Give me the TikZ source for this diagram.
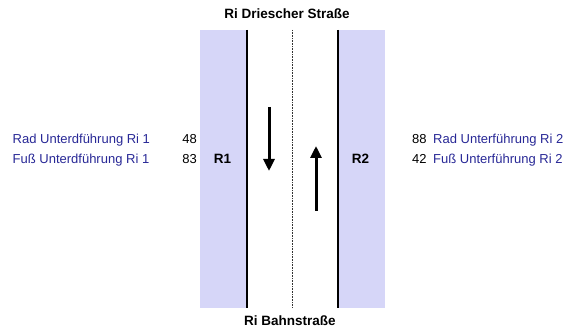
\documentclass[tikz,border=0pt]{standalone}
\usepackage{fontspec}
\setmainfont{Liberation Sans}
\usetikzlibrary{arrows.meta}
\definecolor{stripblue}{RGB}{214,214,248}
\definecolor{labelblue}{RGB}{40,40,150}
\tikzset{
  lbl/.style={font=\fontsize{13}{15}\selectfont, inner sep=0pt},
  bluelbl/.style={lbl, text=labelblue},
  boldlbl/.style={font=\fontsize{13.5}{15}\selectfont\bfseries, inner sep=0pt},
  strip/.style={fill=stripblue, draw=none},
  edge/.style={line width=2pt, black},
  midline/.style={line width=1pt, black!80, dash pattern=on 1pt off 0.6pt},
  dirarrow/.style={line width=3pt, -{Triangle[width=11pt,length=12pt]}}
}
\begin{document}
\begin{tikzpicture}[x=1pt,y=-1pt]
\useasboundingbox (0,0) rectangle (567,336);
% strips
\fill[strip] (200,30) rectangle (246,308);
\fill[strip] (338,30) rectangle (385,308);
% lines
\coordinate (l1) at (246.5,30); \coordinate (l2) at (246.5,308);
\coordinate (m1) at (292,30); \coordinate (m2) at (292,308);
\coordinate (r1) at (337.5,30); \coordinate (r2) at (337.5,308);
\draw[edge] (l1) -- (l2);
\draw[edge] (r1) -- (r2);
\draw[midline] (m1) -- (m2);
% arrows
\coordinate (d1) at (269,107); \coordinate (d2) at (269,171);
\coordinate (u1) at (316,211); \coordinate (u2) at (316,146);
\draw[dirarrow] (d1) -- (d2);
\draw[dirarrow] (u1) -- (u2);
% titles
\node[boldlbl, anchor=base] (top) at (287,18.3) {Ri Driescher Straße};
\node[boldlbl, anchor=base] (bot) at (290,325) {Ri Bahnstraße};
% left
\node[bluelbl, anchor=base west] (rad1) at (12.5,144) {Rad Unterdführung Ri 1};
\node[bluelbl, anchor=base west] (fus1) at (12.5,164) {Fuß Unterdführung Ri 1};
\node[lbl, anchor=base east] (n48) at (197,144) {48};
\node[lbl, anchor=base east] (n83) at (197,164) {83};
\node[boldlbl, anchor=base] (R1) at (222.5,164) {R1};
% right
\node[lbl, anchor=base west] (n88) at (412,144) {88};
\node[lbl, anchor=base west] (n42) at (412,164) {42};
\node[bluelbl, anchor=base west] (rad2) at (433,144) {Rad Unterführung Ri 2};
\node[bluelbl, anchor=base west] (fus2) at (433,164) {Fuß Unterführung Ri 2};
\node[boldlbl, anchor=base] (R2) at (360.5,164) {R2};
\end{tikzpicture}
\end{document}
